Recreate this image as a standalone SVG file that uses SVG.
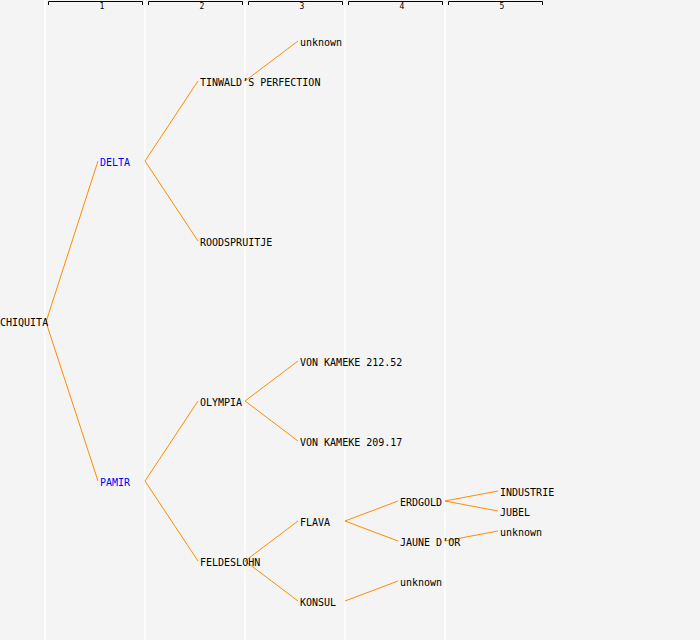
<svg xmlns="http://www.w3.org/2000/svg" width="700" height="640" viewBox="0 0 700 640">
<style>
.t{font-family:"DejaVu Sans Mono","Liberation Mono",monospace;font-size:10px;fill:#000}
.b{fill:#0000ff}
.h{font-family:"DejaVu Sans Mono","Liberation Mono",monospace;font-size:8px;fill:#000;text-anchor:middle}
.sep{stroke:#ffffff;stroke-width:1.5}
.br{fill:none;stroke:#000;stroke-width:1}
.c{stroke:#ff8c00;stroke-width:1;fill:none}
</style>
<rect width="700" height="640" fill="#f4f4f4"/>
<g id="columns">
<line class="sep" x1="45" y1="0" x2="45" y2="640"/>
<line class="sep" x1="145" y1="0" x2="145" y2="640"/>
<line class="sep" x1="245" y1="0" x2="245" y2="640"/>
<line class="sep" x1="345" y1="0" x2="345" y2="640"/>
<line class="sep" x1="445" y1="0" x2="445" y2="640"/>
<path class="br" d="M48.5,5V1.5H142.5V5M148.5,5V1.5H242.5V5M248.5,5V1.5H342.5V5M348.5,5V1.5H442.5V5M448.5,5V1.5H542.5V5"/>
<text class="h" x="102" y="9">1</text>
<text class="h" x="202" y="9">2</text>
<text class="h" x="302" y="9">3</text>
<text class="h" x="402" y="9">4</text>
<text class="h" x="502" y="9">5</text>
</g>
<g id="connectors">
<line class="c" x1="46" y1="322" x2="98" y2="161"/>
<line class="c" x1="46" y1="322" x2="98" y2="481"/>
<line class="c" x1="145" y1="161" x2="198" y2="81"/>
<line class="c" x1="145" y1="161" x2="198" y2="241"/>
<line class="c" x1="245" y1="81" x2="298" y2="41"/>
<line class="c" x1="145" y1="481" x2="198" y2="401"/>
<line class="c" x1="145" y1="481" x2="198" y2="561"/>
<line class="c" x1="245" y1="401" x2="298" y2="361"/>
<line class="c" x1="245" y1="401" x2="298" y2="441"/>
<line class="c" x1="245" y1="561" x2="298" y2="521"/>
<line class="c" x1="245" y1="561" x2="298" y2="601"/>
<line class="c" x1="345" y1="521" x2="398" y2="501"/>
<line class="c" x1="345" y1="521" x2="398" y2="541"/>
<line class="c" x1="345" y1="601" x2="398" y2="581"/>
<line class="c" x1="445" y1="501" x2="498" y2="491"/>
<line class="c" x1="445" y1="501" x2="498" y2="511"/>
<line class="c" x1="445" y1="541" x2="498" y2="531"/>
</g>
<g id="n-chiquita"><text class="t" x="0" y="326">CHIQUITA</text></g>
<g id="n-delta"><text class="t b" x="100" y="166">DELTA</text></g>
<g id="n-pamir"><text class="t b" x="100" y="486">PAMIR</text></g>
<g id="n-tinwald"><text class="t" x="200" y="86">TINWALD’S PERFECTION</text></g>
<g id="n-roodspruitje"><text class="t" x="200" y="246">ROODSPRUITJE</text></g>
<g id="n-olympia"><text class="t" x="200" y="406">OLYMPIA</text></g>
<g id="n-feldeslohn"><text class="t" x="200" y="566">FELDESLOHN</text></g>
<g id="n-unknown1"><text class="t" x="300" y="46">unknown</text></g>
<g id="n-vk21252"><text class="t" x="300" y="366">VON KAMEKE 212.52</text></g>
<g id="n-vk20917"><text class="t" x="300" y="446">VON KAMEKE 209.17</text></g>
<g id="n-flava"><text class="t" x="300" y="526">FLAVA</text></g>
<g id="n-konsul"><text class="t" x="300" y="606">KONSUL</text></g>
<g id="n-erdgold"><text class="t" x="400" y="506">ERDGOLD</text></g>
<g id="n-jaune"><text class="t" x="400" y="546">JAUNE D’OR</text></g>
<g id="n-unknown2"><text class="t" x="400" y="586">unknown</text></g>
<g id="n-industrie"><text class="t" x="500" y="496">INDUSTRIE</text></g>
<g id="n-jubel"><text class="t" x="500" y="516">JUBEL</text></g>
<g id="n-unknown3"><text class="t" x="500" y="536">unknown</text></g>
</svg>
